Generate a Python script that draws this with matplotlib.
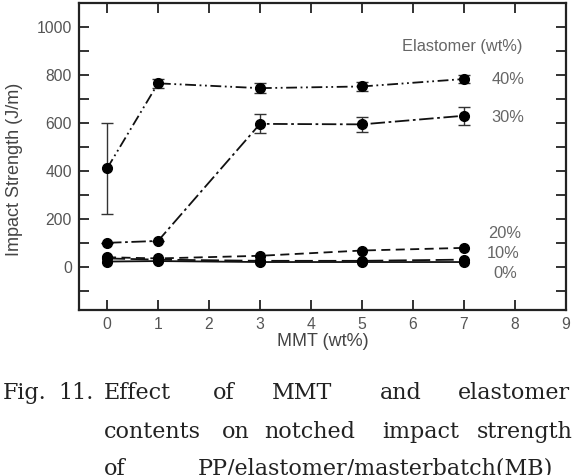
import matplotlib
matplotlib.use("Agg")
import matplotlib.pyplot as plt
import numpy as np

mmt = [0, 1, 3, 5, 7]
e40 = [410, 765, 745, 752, 783]
e40_err = [190, 20, 20, 20, 18]
e30 = [100, 108, 596, 594, 630]
e30_err = [0, 0, 40, 30, 38]
e20 = [40, 35, 46, 68, 79]
e10 = [35, 30, 25, 25, 30]
e0 = [22, 24, 20, 20, 20]

series_labels = ["40%", "30%", "20%", "10%", "0%"]

fig = plt.figure(figsize=(5.72, 4.75), dpi=100)
ax = fig.add_axes([79/572, 1-310/475, (566-79)/572, (310-3)/475])

tc = '#555555'
lc = '#111111'
kw = dict(marker='o', ms=7, color=lc, lw=1.3, mfc='black', mec='black')
ax.errorbar(mmt, e40, yerr=e40_err, ls=(0, (6, 2, 1, 2, 1, 2)), capsize=4, ecolor='#333', elinewidth=1, **kw)
ax.errorbar(mmt, e30, yerr=e30_err, ls=(0, (8, 2, 1.5, 2)), capsize=4, ecolor='#333', elinewidth=1, **kw)
ax.plot(mmt, e20, ls=(0, (5, 3)), **kw)
ax.plot(mmt, e10, ls=(0, (10, 3)), **kw)
ax.plot(mmt, e0, ls='-', **kw)

ax.set_xlim(-0.55, 9)
ax.set_ylim(-180, 1100)
ax.set_xticks(range(0, 10))
ax.set_yticks(range(0, 1001, 200))
ax.set_yticks(range(-100, 1101, 200), minor=True)
ax.tick_params(which='both', direction='in', length=7, width=1.3, top=True, right=True,
               labelsize=11.3, labelcolor=tc, color='#222', pad=5)
for s in ax.spines.values():
    s.set_linewidth(1.6)
    s.set_color('#222')
for lab in ax.get_xticklabels() + ax.get_yticklabels():
    lab.set_family('Liberation Sans')

def ftxt(x, y, s, **k):
    fig.text(x/572, 1-y/475, s, **k)

ftxt(323, 342, 'MMT (wt%)', fontsize=13, color='#444444', family='Liberation Sans', ha='center', va='center')
ftxt(15, 169, 'Impact Strength (J/m)', fontsize=13, color='#444444', family='Liberation Sans',
     ha='center', va='center', rotation=90)

sk = dict(fontsize=11.8, color='#666666', family='Liberation Sans', ha='center', va='center')
ftxt(462, 46, 'Elastomer (wt%)', **sk)
ftxt(508, 79, series_labels[0], **sk)
ftxt(508, 117, series_labels[1], **sk)
ftxt(505, 234, series_labels[2], **sk)
ftxt(503, 253, series_labels[3], **sk)
ftxt(505, 273, series_labels[4], **sk)

ck = dict(fontsize=16, color='#222222', family='DejaVu Serif', ha='left', va='center')
for x, w in [(3, 'Fig.'), (58, '11.'), (104, 'Effect'), (213, 'of'), (272, 'MMT'), (380, 'and'), (458, 'elastomer')]:
    ftxt(x, 393, w, **ck)
for x, w in [(104, 'contents'), (222, 'on'), (264, 'notched'), (382, 'impact'), (477, 'strength')]:
    ftxt(x, 432, w, **ck)
for x, w in [(104, 'of'), (198, 'PP/elastomer/masterbatch(MB)')]:
    ftxt(x, 469, w, **ck)

fig.savefig('out.png', dpi=100)
